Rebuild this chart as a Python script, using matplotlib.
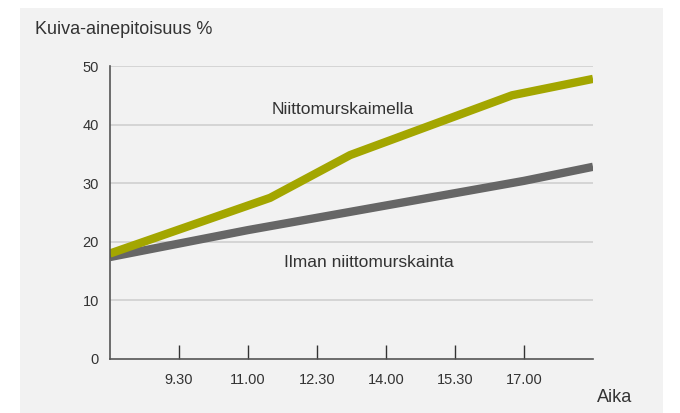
import matplotlib
matplotlib.use("Agg")
import matplotlib.pyplot as plt
from matplotlib.patches import Rectangle

# Data (time in hours, dry matter %)
green_x = [8.0, 11.48, 13.22, 16.74, 18.5]
green_y = [18.0, 27.5, 34.8, 45.0, 47.8]
grey_x = [8.0, 11.0, 14.0, 17.0, 18.5]
grey_y = [17.4, 22.0, 26.2, 30.4, 32.8]
xticks = [9.5, 11.0, 12.5, 14.0, 15.5, 17.0]
xtick_labels = ["9.30", "11.00", "12.30", "14.00", "15.30", "17.00"]
yticks = [0, 10, 20, 30, 40, 50]

plt.rcParams['font.family'] = ['Liberation Sans', 'DejaVu Sans']

fig = plt.figure(figsize=(6.8, 4.13), dpi=100)
fig.patch.set_facecolor('white')
bg = Rectangle((20/680, 0), (663-20)/680, (413-8)/413,
               transform=fig.transFigure, facecolor='#f2f2f2',
               edgecolor='none', zorder=-10)
fig.add_artist(bg)

ax = fig.add_axes([110/680, (413-359)/413, (593-110)/680, (359-66)/413])
ax.set_zorder(1)
ax.set_facecolor('none')
ax.set_xlim(8.0, 18.5)
ax.set_ylim(0, 50)

for v in yticks[1:]:
    ax.axhline(v, color='#d0d0d0', lw=1.2, zorder=1)

ax.plot(grey_x, grey_y, color='#666666', lw=6, solid_capstyle='butt', zorder=3)
ax.plot(green_x, green_y, color='#a3a600', lw=6, solid_capstyle='butt', zorder=4)

for s in ['top', 'right']:
    ax.spines[s].set_visible(False)
for s in ['left', 'bottom']:
    ax.spines[s].set_color('#555555')
    ax.spines[s].set_linewidth(1.2)
    ax.spines[s].set_zorder(5)

ax.set_xticks(xticks)
ax.set_xticklabels(xtick_labels)
ax.set_yticks(yticks)
ax.tick_params(axis='x', direction='in', length=10, width=1, color='#333333',
               labelsize=10.5, labelcolor='#333333', pad=10)
ax.tick_params(axis='y', length=0, labelsize=10.5, labelcolor='#333333', pad=8)

ax.text(0.482, 0.85, "Niittomurskaimella", transform=ax.transAxes, fontsize=12.5,
        color='#333333', ha='center', va='center')
ax.text(0.536, 0.328, "Ilman niittomurskainta", transform=ax.transAxes, fontsize=12.5,
        color='#333333', ha='center', va='center')

fig.text(35/680, 1-30/413, "Kuiva-ainepitoisuus %", fontsize=13, color='#333333',
         ha='left', va='center')
fig.text(615/680, 1-398/413, "Aika", fontsize=13, color='#333333',
         ha='center', va='center')

fig.savefig("out.png", dpi=100)
